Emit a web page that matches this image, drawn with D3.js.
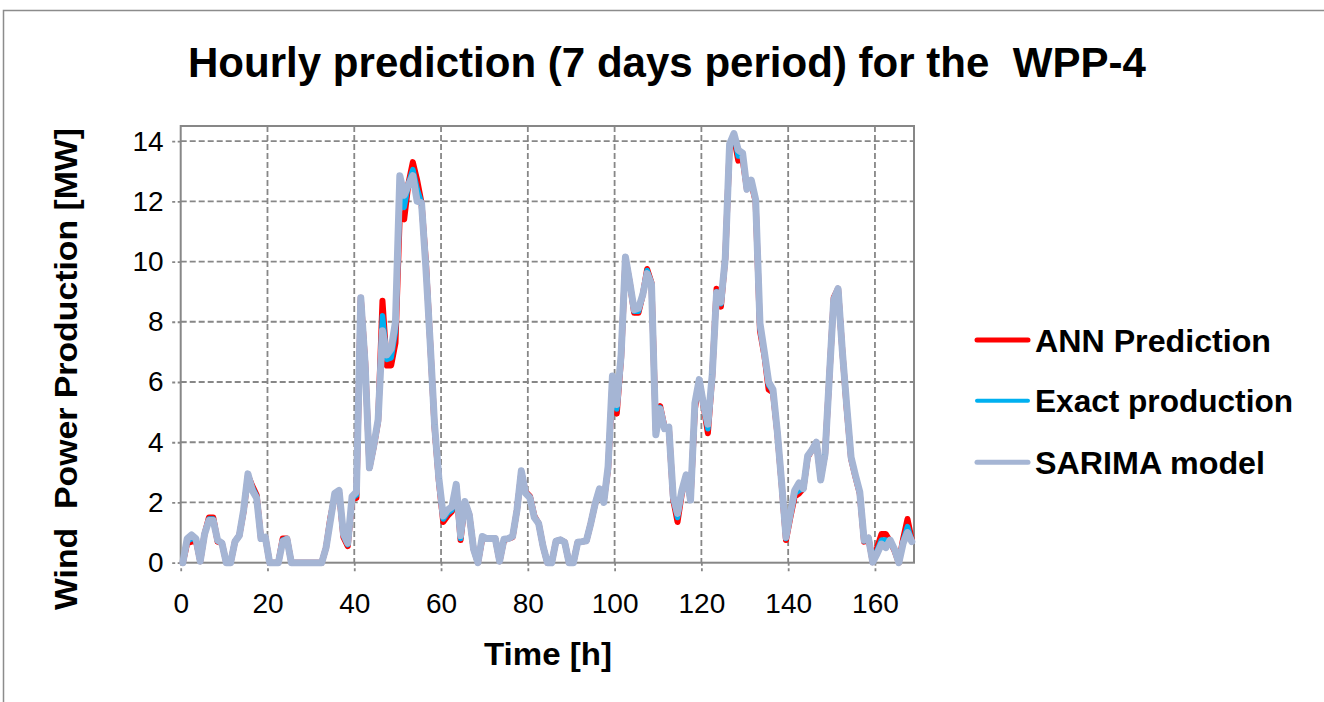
<!DOCTYPE html>
<html>
<head>
<meta charset="utf-8">
<script src="https://cdn.jsdelivr.net/npm/d3@7"></script>
<style>
  html, body { margin: 0; padding: 0; background: #ffffff; }
  svg { display: block; }
</style>
</head>
<body>
<svg id="chart" width="1324" height="702"></svg>
<script>
// Hourly wind power of WPP-4 over one week (169 hourly values, MW)
const hours = d3.range(0, 169);

const xTicks = [0, 20, 40, 60, 80, 100, 120, 140, 160];
const yTicks = [0, 2, 4, 6, 8, 10, 12, 14];

const seriesNames = ["ANN Prediction", "Exact production", "SARIMA model"];

const annPrediction = [
  0, 0.65, 0.7, 0.75, 0.05, 0.95, 1.5, 1.5, 0.7, 0.65,
  0, 0, 0.7, 0.9, 1.7, 2.9, 2.55, 2.25, 0.8, 0.85,
  0, 0, 0, 0.8, 0.8, 0, 0, 0, 0, 0,
  0, 0, 0, 0.5, 1.5, 2.2, 2.35, 0.85, 0.55, 2.1,
  2.15, 8.8, 6.7, 3.15, 3.85, 4.7, 8.7, 6.55, 6.55, 7.3,
  11.6, 11.4, 12.6, 13.3, 12.7, 11.95, 10.0, 7.3, 4.5, 2.7,
  1.35, 1.55, 1.7, 2.55, 0.75, 2.0, 1.6, 0.45, 0, 0.8,
  0.8, 0.8, 0.8, 0.05, 0.75, 0.8, 0.85, 1.75, 3.0, 2.35,
  2.2, 1.55, 1.3, 0.55, 0, 0, 0.72, 0.76, 0.68, 0,
  0, 0.68, 0.7, 0.73, 1.3, 1.95, 2.4, 2.05, 3.1, 6.0,
  4.95, 6.8, 10.1, 9.3, 8.3, 8.3, 8.9, 9.75, 9.3, 4.4,
  5.2, 4.5, 4.5, 2.1, 1.35, 2.3, 2.9, 2.1, 5.1, 6.05,
  5.2, 4.3, 6.2, 9.1, 8.5, 10.1, 13.8, 14.15, 13.35, 13.4,
  12.4, 12.6, 12.0, 7.7, 6.9, 5.75, 5.65, 4.3, 2.6, 0.75,
  1.5, 2.2, 2.3, 2.46, 3.5, 3.75, 4.0, 2.8, 3.6, 6.2,
  8.8, 9.1, 7.0, 5.1, 3.45, 2.85, 2.3, 0.7, 0.82, 0.02,
  0.5, 0.95, 0.95, 0.7, 0.4, 0, 0.8, 1.45, 0.75
];

const exactProduction = [
  0, 0.72, 0.8, 0.78, 0.05, 0.95, 1.45, 1.45, 0.72, 0.65,
  0, 0, 0.7, 0.9, 1.72, 2.92, 2.5, 2.2, 0.8, 0.85,
  0, 0, 0, 0.75, 0.8, 0, 0, 0, 0, 0,
  0, 0, 0, 0.5, 1.45, 2.25, 2.38, 0.9, 0.6, 2.15,
  2.25, 8.8, 6.65, 3.15, 3.88, 4.72, 8.2, 6.75, 6.8, 7.7,
  12.2, 11.8, 12.6, 13.05, 12.4, 11.95, 9.9, 7.3, 4.55, 2.75,
  1.45, 1.65, 1.75, 2.58, 0.8, 2.0, 1.6, 0.45, 0, 0.85,
  0.8, 0.8, 0.8, 0.05, 0.77, 0.8, 0.87, 1.75, 3.02, 2.32,
  2.18, 1.52, 1.3, 0.55, 0, 0, 0.72, 0.76, 0.68, 0,
  0, 0.68, 0.7, 0.73, 1.3, 1.95, 2.42, 2.02, 3.15, 6.1,
  5.1, 6.85, 10.12, 9.3, 8.35, 8.35, 8.9, 9.7, 9.28, 4.3,
  5.15, 4.48, 4.5, 2.15, 1.5, 2.35, 2.9, 2.1, 5.2, 6.05,
  5.22, 4.45, 6.22, 9.0, 8.6, 10.1, 13.85, 14.2, 13.5, 13.5,
  12.4, 12.65, 12.03, 7.8, 6.95, 5.9, 5.7, 4.32, 2.62, 0.8,
  1.57, 2.3, 2.4, 2.46, 3.52, 3.75, 4.0, 2.78, 3.6, 6.2,
  8.77, 9.1, 7.0, 5.15, 3.48, 2.88, 2.32, 0.72, 0.82, 0.02,
  0.4, 0.75, 0.75, 0.72, 0.42, 0, 0.72, 1.2, 0.72
];

const sarimaModel = [
  0, 0.8, 0.92, 0.8, 0.05, 0.95, 1.4, 1.4, 0.75, 0.65,
  0, 0, 0.7, 0.9, 1.75, 2.95, 2.4, 2.15, 0.8, 0.85,
  0, 0, 0, 0.7, 0.78, 0, 0, 0, 0, 0,
  0, 0, 0, 0.5, 1.4, 2.3, 2.4, 0.95, 0.65, 2.2,
  2.35, 8.8, 6.6, 3.15, 3.9, 4.75, 7.7, 6.9, 7.1, 8.0,
  12.85, 12.2, 12.55, 12.85, 12.0, 11.95, 9.8, 7.3, 4.6, 2.8,
  1.55, 1.75, 1.85, 2.6, 0.9, 2.03, 1.6, 0.45, 0, 0.87,
  0.8, 0.8, 0.8, 0.05, 0.78, 0.8, 0.88, 1.75, 3.05, 2.3,
  2.15, 1.5, 1.3, 0.55, 0, 0, 0.72, 0.76, 0.68, 0,
  0, 0.68, 0.7, 0.73, 1.3, 1.95, 2.45, 2.0, 3.2, 6.2,
  5.25, 6.9, 10.15, 9.3, 8.4, 8.45, 8.9, 9.6, 9.25, 4.25,
  5.1, 4.45, 4.5, 2.2, 1.64, 2.4, 2.92, 2.08, 5.3, 6.08,
  5.25, 4.6, 6.25, 8.96, 8.65, 10.1, 13.9, 14.25, 13.7, 13.6,
  12.4, 12.7, 12.06, 7.95, 7.0, 6.0, 5.75, 4.35, 2.65, 0.85,
  1.64, 2.4, 2.65, 2.46, 3.55, 3.75, 4.0, 2.75, 3.6, 6.2,
  8.74, 9.1, 7.0, 5.2, 3.5, 2.9, 2.35, 0.75, 0.82, 0.02,
  0.3, 0.62, 0.5, 0.75, 0.45, 0, 0.65, 1.0, 0.7
];

// ---- layout ----
const plot = { left: 180.7, top: 126, right: 914, bottom: 562.7 };
const svg = d3.select("#chart");
const gridColor = "#878787";
const textFont = "'Liberation Sans', Arial, sans-serif";

// outer chart frame
svg.append("rect")
  .attr("x", 3.5).attr("y", 10.5)
  .attr("width", 1340).attr("height", 720)
  .attr("fill", "#ffffff")
  .attr("stroke", "#8c8c8c").attr("stroke-width", 1.5);

const x = d3.scaleLinear().domain([0, 169]).range([plot.left, plot.right]);
const y = d3.scaleLinear().domain([0, 14.5]).range([plot.bottom, plot.top]);

// gridlines
const grid = svg.append("g");
grid.selectAll("line.h").data(yTicks.filter(d => d > 0)).join("line")
  .attr("x1", plot.left).attr("x2", plot.right)
  .attr("y1", d => y(d)).attr("y2", d => y(d))
  .attr("stroke", gridColor).attr("stroke-width", 1.8)
  .attr("stroke-dasharray", "6,3");
grid.selectAll("line.v").data(xTicks.filter(d => d > 0)).join("line")
  .attr("x1", d => x(d)).attr("x2", d => x(d))
  .attr("y1", plot.top).attr("y2", plot.bottom)
  .attr("stroke", gridColor).attr("stroke-width", 1.8)
  .attr("stroke-dasharray", "6,3");

// axes
const xAxis = svg.append("g")
  .attr("transform", `translate(0,${plot.bottom})`)
  .call(d3.axisBottom(x).tickValues(xTicks).tickSize(10).tickPadding(20).tickFormat(d3.format("d")));
const yAxis = svg.append("g")
  .attr("transform", `translate(${plot.left},0)`)
  .call(d3.axisLeft(y).tickValues(yTicks).tickSize(10).tickPadding(7).tickFormat(d3.format("d")));

[xAxis, yAxis].forEach(a => {
  a.select(".domain").remove();
  a.selectAll(".tick line")
    .attr("stroke", gridColor).attr("stroke-width", 1.8)
    .attr("stroke-dasharray", "3,2.5");
  a.selectAll(".tick text")
    .attr("fill", "#000").style("font-family", textFont).style("font-size", "28px");
});

// plot area border
svg.append("rect")
  .attr("x", plot.left).attr("y", plot.top)
  .attr("width", plot.right - plot.left).attr("height", plot.bottom - plot.top)
  .attr("fill", "none").attr("stroke", gridColor).attr("stroke-width", 2);

// series lines
const series = [
  { name: seriesNames[0], values: annPrediction, color: "#ff0000", width: 6 },
  { name: seriesNames[1], values: exactProduction, color: "#00b0f0", width: 5.5 },
  { name: seriesNames[2], values: sarimaModel, color: "#a5b5d4", width: 7 }
];

const line = d3.line()
  .x((d, i) => x(hours[i] + 0.5))
  .y(d => y(d));

svg.append("g").selectAll("path").data(series).join("path")
  .attr("d", s => line(s.values))
  .attr("fill", "none")
  .attr("stroke", s => s.color)
  .attr("stroke-width", s => s.width)
  .attr("stroke-linejoin", "round")
  .attr("stroke-linecap", "round");

// titles
svg.append("text")
  .attr("x", 188).attr("y", 76.7)
  .attr("textLength", 958).attr("lengthAdjust", "spacingAndGlyphs")
  .style("white-space", "pre")
  .style("font-family", textFont).style("font-weight", "bold").style("font-size", "42px")
  .text("Hourly prediction (7 days period) for the  WPP-4");

svg.append("text")
  .attr("x", 484).attr("y", 665)
  .attr("textLength", 128).attr("lengthAdjust", "spacingAndGlyphs")
  .style("font-family", textFont).style("font-weight", "bold").style("font-size", "31px")
  .text("Time [h]");

svg.append("text")
  .attr("transform", "translate(77,610) rotate(-90)")
  .attr("x", 0).attr("y", 0)
  .attr("textLength", 482).attr("lengthAdjust", "spacingAndGlyphs")
  .style("white-space", "pre")
  .style("font-family", textFont).style("font-weight", "bold").style("font-size", "31px")
  .text("Wind  Power Production [MW]");

// legend
const legendRows = [
  { lineY: 340, baseY: 351.7, len: 236 },
  { lineY: 400.7, baseY: 411.7, len: 258 },
  { lineY: 462.3, baseY: 474, len: 230 }
];
const legend = svg.append("g");
series.forEach((s, i) => {
  const r = legendRows[i];
  legend.append("line")
    .attr("x1", 977).attr("x2", 1028)
    .attr("y1", r.lineY).attr("y2", r.lineY)
    .attr("stroke", s.color).attr("stroke-width", i === 1 ? 4 : 5)
    .attr("stroke-linecap", "round");
  legend.append("text")
    .attr("x", 1035).attr("y", r.baseY)
    .attr("textLength", r.len).attr("lengthAdjust", "spacingAndGlyphs")
    .style("font-family", textFont).style("font-weight", "bold").style("font-size", "32px")
    .text(s.name);
});
</script>
</body>
</html>
